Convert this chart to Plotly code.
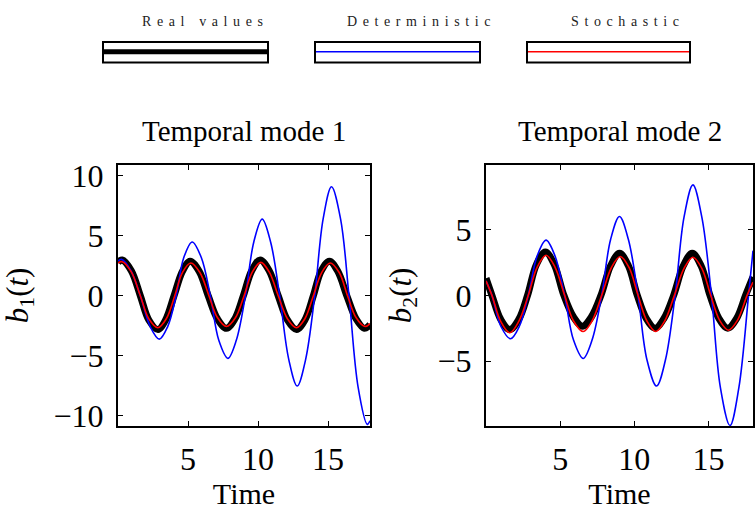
import plotly.graph_objects as go

# ---------------- data ----------------
# Temporal mode 1
t1_real = [0, 0.3, 0.95, 1.6, 2.2, 2.85, 3.4, 4.0, 4.6, 5.15, 5.8, 6.45, 7.1, 7.75, 8.35, 8.95, 9.55, 10.15,
           10.8, 11.45, 12.1, 12.75, 13.35, 13.95, 14.5, 15.1, 15.7, 16.35, 17.0, 17.6, 18]
b1_real = [2.8, 3.0, 2.1, 0, -2.0, -2.8, -2.0, 0, 2.05, 2.9, 2.05, 0, -1.9, -2.7, -1.9, 0, 2.1, 3.0,
           2.1, 0, -2.0, -2.8, -2.0, 0, 2.05, 2.9, 2.05, 0, -1.9, -2.7, -2.4]
t1_det = [0, 0.25, 0.9, 1.6, 2.3, 2.95, 3.55, 4.15, 4.7, 5.3, 5.95, 6.6, 7.2, 7.85, 8.45, 9.1, 9.7, 10.3,
          10.9, 11.55, 12.2, 12.8, 13.4, 14.05, 14.65, 15.25, 15.9, 16.5, 17.15, 17.8, 18]
b1_det = [2.9, 3.05, 2.15, 0, -2.55, -3.6, -2.55, 0, 3.2, 4.5, 3.2, 0, -3.7, -5.2, -3.7, 0, 4.5, 6.4,
          4.5, 0, -5.3, -7.5, -5.3, 0, 6.4, 9.1, 6.4, 0, -7.6, -10.7, -10.4]
t1_sto = [0, 0.3, 0.95, 1.6, 2.2, 2.85, 3.45, 4.05, 4.6, 5.2, 5.85, 6.5, 7.1, 7.75, 8.4, 9.0, 9.6, 10.2,
          10.8, 11.45, 12.1, 12.75, 13.35, 13.95, 14.55, 15.15, 15.8, 16.4, 17.0, 17.65, 18]
b1_sto = [2.75, 2.85, 2.0, 0, -1.9, -2.65, -1.9, 0, 1.95, 2.75, 1.95, 0, -1.8, -2.55, -1.8, 0, 2.0, 2.8,
          2.0, 0, -1.9, -2.65, -1.9, 0, 1.95, 2.75, 1.95, 0, -1.8, -2.55, -2.3]

# Temporal mode 2
t2_real = [0, 0.4, 1.0, 1.6, 2.2, 2.8, 3.4, 4.0, 4.6, 5.25, 5.9, 6.5, 7.1, 7.75, 8.4, 9.0, 9.6, 10.2,
           10.8, 11.4, 12.0, 12.65, 13.3, 13.9, 14.5, 15.1, 15.7, 16.3, 16.9, 17.5, 18]
b2_real = [1.3, 0, -1.85, -2.6, -1.85, 0, 2.35, 3.3, 2.35, 0, -1.65, -2.35, -1.65, 0, 2.25, 3.2, 2.25, 0,
           -1.75, -2.5, -1.75, 0, 2.25, 3.2, 2.25, 0, -1.75, -2.5, -1.75, 0, 1.4]
t2_det = [0, 0.4, 1.0, 1.65, 2.25, 2.85, 3.45, 4.05, 4.65, 5.3, 5.9, 6.55, 7.15, 7.8, 8.4, 9.0, 9.6, 10.25,
          10.85, 11.5, 12.1, 12.75, 13.35, 13.95, 14.55, 15.2, 15.8, 16.45, 17.05, 17.7, 18]
b2_det = [1.1, 0, -2.35, -3.3, -2.35, 0, 3.0, 4.2, 3.0, 0, -3.4, -4.8, -3.4, 0, 4.25, 6.0, 4.25, 0,
          -4.9, -6.9, -4.9, 0, 5.95, 8.4, 5.95, 0, -7.0, -9.9, -7.0, 0, 3.4]
t2_sto = [0, 0.4, 1.0, 1.6, 2.2, 2.85, 3.45, 4.05, 4.65, 5.3, 5.9, 6.55, 7.15, 7.8, 8.45, 9.05, 9.65, 10.25,
          10.85, 11.45, 12.05, 12.7, 13.35, 13.95, 14.55, 15.15, 15.75, 16.35, 16.95, 17.6, 18]
b2_sto = [1.1, 0, -2.0, -2.85, -2.0, 0, 2.15, 3.05, 2.15, 0, -1.95, -2.75, -1.95, 0, 2.1, 2.95, 2.1, 0,
          -1.95, -2.75, -1.95, 0, 2.05, 2.9, 2.05, 0, -1.9, -2.65, -1.9, 0, 1.0]

titles = ["Temporal mode 1", "Temporal mode 2"]
ylabels = ["<i>b</i><sub>1</sub>(<i>t</i>)", "<i>b</i><sub>2</sub>(<i>t</i>)"]
xlabel = "Time"
legend_names = ["Real values", "Deterministic", "Stochastic"]
x_ticks = [5, 10, 15]
y_ticks_1 = [-10, -5, 0, 5, 10]
y_ticks_2 = [-5, 0, 5]

# ---------------- figure ----------------
W, H = 756, 511
FONT = "Liberation Serif"
fig = go.Figure()


def px_x(p):
    return p / W


def px_y(p):
    return 1 - p / H


dom_x1 = [px_x(118), px_x(370)]
dom_x2 = [px_x(486), px_x(753)]
dom_y = [px_y(432), px_y(163)]

series = [
    (t1_real, b1_real, t1_det, b1_det, t1_sto, b1_sto, "x", "y"),
    (t2_real, b2_real, t2_det, b2_det, t2_sto, b2_sto, "x2", "y2"),
]
for tr, br, td, bd, ts, bs, xa, ya in series:
    fig.add_trace(go.Scatter(x=tr, y=br, mode="lines",
                             line=dict(color="black", width=7, shape="spline", smoothing=1.0),
                             xaxis=xa, yaxis=ya, showlegend=False))
    fig.add_trace(go.Scatter(x=td, y=bd, mode="lines",
                             line=dict(color="#0000ff", width=1.6, shape="spline", smoothing=1.0),
                             xaxis=xa, yaxis=ya, showlegend=False))
    fig.add_trace(go.Scatter(x=ts, y=bs, mode="lines",
                             line=dict(color="#ff0000", width=1.6, shape="spline", smoothing=1.0),
                             xaxis=xa, yaxis=ya, showlegend=False))

axis_common = dict(showline=True, linecolor="black", linewidth=2, mirror="allticks", ticks="inside",
                   ticklen=5, tickwidth=1, tickcolor="black", showgrid=False, zeroline=False,
                   tickfont=dict(family=FONT, size=32, color="black"))
xtitle = dict(text=xlabel, font=dict(family=FONT, size=30, color="black"), standoff=4)


def ytitle(txt):
    return dict(text=txt, font=dict(family=FONT, size=31, color="black"), standoff=17)


fig.update_layout(
    width=W, height=H, margin=dict(l=0, r=0, t=0, b=0),
    paper_bgcolor="white", plot_bgcolor="white", showlegend=False,
    font=dict(family=FONT, color="black"),
    xaxis=dict(domain=dom_x1, range=[0, 18], tickvals=x_ticks, anchor="y", ticklabelstandoff=3,
               title=xtitle, **axis_common),
    yaxis=dict(domain=dom_y, range=[-10.85, 10.95], tickvals=y_ticks_1, anchor="x", ticklabelstandoff=6,
               title=ytitle(ylabels[0]), **axis_common),
    xaxis2=dict(domain=dom_x2, range=[0, 18], tickvals=x_ticks, anchor="y2", ticklabelstandoff=3,
                title=xtitle, **axis_common),
    yaxis2=dict(domain=dom_y, range=[-9.95, 9.95], tickvals=y_ticks_2, anchor="x2", ticklabelstandoff=6,
                title=ytitle(ylabels[1]), **axis_common),
)

annotations = []
centers = [244, 620]
for i in range(2):
    annotations.append(dict(text=titles[i], x=px_x(centers[i]), y=px_y(129), xref="paper", yref="paper",
                            showarrow=False, font=dict(family=FONT, size=29, color="black"),
                            xanchor="center", yanchor="middle"))

# boxed legend entries, as in the reference
box_x = [(103, 268), (315, 480), (527, 690)]
label_cx = [202, 418, 625]
leg_styles = [("black", 5), ("#0000ff", 1.5), ("#ff0000", 1.5)]
shapes = []
for i, name in enumerate(legend_names):
    x0, x1 = box_x[i]
    shapes.append(dict(type="rect", xref="paper", yref="paper", x0=px_x(x0), x1=px_x(x1),
                       y0=px_y(58), y1=px_y(37), line=dict(color="black", width=2), fillcolor="white"))
    col, w = leg_styles[i]
    shapes.append(dict(type="line", xref="paper", yref="paper", x0=px_x(x0 + 1), x1=px_x(x1 - 1),
                       y0=px_y(47), y1=px_y(47), line=dict(color=col, width=w)))
    spaced = "\u2009\u2009".join(name).replace("\u2009\u2009 \u2009\u2009", "\u2009\u2009\u2009 \u2009")
    annotations.append(dict(text=spaced, x=px_x(label_cx[i]), y=px_y(16), xref="paper", yref="paper",
                            showarrow=False, font=dict(family=FONT, size=14, color="#222222"),
                            xanchor="center", yanchor="middle"))

fig.update_layout(annotations=annotations, shapes=shapes)
fig.write_html("out.html")
